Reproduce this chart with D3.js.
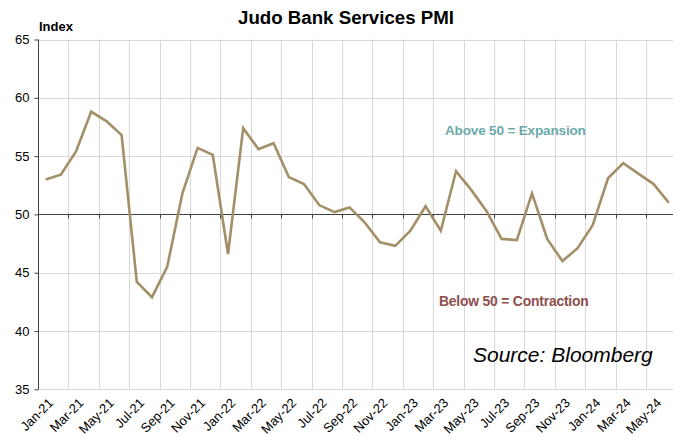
<!DOCTYPE html>
<html><head><meta charset="utf-8">
<script src="https://cdn.jsdelivr.net/npm/d3@7"></script>
<style>body{margin:0;background:#fff;overflow:hidden}svg{display:block;font-family:"Liberation Sans",Arial,sans-serif}</style>
</head><body><svg id="c" width="673" height="437"></svg>
<script>
const months = ["Jan-21","Feb-21","Mar-21","Apr-21","May-21","Jun-21","Jul-21","Aug-21","Sep-21","Oct-21","Nov-21","Dec-21",
"Jan-22","Feb-22","Mar-22","Apr-22","May-22","Jun-22","Jul-22","Aug-22","Sep-22","Oct-22","Nov-22","Dec-22",
"Jan-23","Feb-23","Mar-23","Apr-23","May-23","Jun-23","Jul-23","Aug-23","Sep-23","Oct-23","Nov-23","Dec-23",
"Jan-24","Feb-24","Mar-24","Apr-24","May-24","Jun-24"];
const pmi = [53.0,53.4,55.4,58.8,58.0,56.8,44.2,42.9,45.5,51.8,55.7,55.1,
46.6,57.4,55.6,56.1,53.2,52.6,50.8,50.2,50.6,49.3,47.6,47.3,
48.6,50.7,48.6,53.7,52.1,50.3,47.9,47.8,51.8,47.9,46.0,47.1,
49.1,53.1,54.4,53.5,52.6,51.0];
const yTicks = [35,40,45,50,55,60,65];
const title = "Judo Bank Services PMI";
const yLabel = "Index";
const noteAbove = "Above 50 = Expansion";
const noteBelow = "Below 50 = Contraction";
const source = "Source: Bloomberg";

const svg = d3.select("#c");
const L = 38, T = 39.5, B = 389.3;
const step = 15.2;
const R = L + step * months.length;
const x = d3.scaleBand().domain(months).range([L, R]);
const y = d3.scaleLinear().domain([35, 65]).range([B, T]);

// horizontal gridlines
svg.append("g").selectAll("line").data(yTicks).join("line")
  .attr("x1", L).attr("x2", 673).attr("y1", d => Math.round(y(d)) + 0.5).attr("y2", d => Math.round(y(d)) + 0.5)
  .attr("stroke", "#d9d9d9").attr("stroke-width", 1);
// vertical gridlines at every 2nd category boundary
const bounds = months.filter((d, i) => i % 2 === 0 && i > 0);
svg.append("g").selectAll("line").data(bounds).join("line")
  .attr("x1", d => Math.round(x(d)) + 0.5).attr("x2", d => Math.round(x(d)) + 0.5)
  .attr("y1", T).attr("y2", B)
  .attr("stroke", "#d9d9d9").attr("stroke-width", 1);

// y axis
const yAxis = svg.append("g").attr("transform", `translate(${L + 0.5},0)`)
  .call(d3.axisLeft(y).tickValues(yTicks).tickSize(4).tickPadding(5).tickFormat(d3.format("d")));
yAxis.select(".domain").attr("stroke", "#404040").attr("d", `M-0,${T}V${B}`);
yAxis.selectAll(".tick line").attr("stroke", "#404040");
yAxis.selectAll(".tick text").attr("font-size", "13px").attr("fill", "#000").attr("font-family", "Liberation Sans, Arial, sans-serif");

// x axis line at 50 with ticks
const y50 = Math.round(y(50)) + 0.5;
svg.append("line").attr("x1", L).attr("x2", 673).attr("y1", y50).attr("y2", y50).attr("stroke", "#404040").attr("stroke-width", 1.2);
svg.append("g").selectAll("line").data(bounds).join("line")
  .attr("x1", d => Math.round(x(d)) + 0.5).attr("x2", d => Math.round(x(d)) + 0.5)
  .attr("y1", y50).attr("y2", y50 + 4).attr("stroke", "#404040");

// x labels
const labs = months.filter((d, i) => i % 2 === 0);
svg.append("g").selectAll("text").data(labs).join("text")
  .attr("transform", d => `translate(${x(d) + x.bandwidth() / 2 + 2},${B + 8}) rotate(-45)`)
  .attr("text-anchor", "end").attr("dy", "0.7em")
  .attr("font-size", "13px").attr("fill", "#000").text(d => d);

// line
const line = d3.line().x((d, i) => x(months[i]) + x.bandwidth() / 2).y(d => y(d));
svg.append("path").datum(pmi).attr("d", line)
  .attr("fill", "none").attr("stroke", "#a38f68").attr("stroke-width", 2.6).attr("stroke-linejoin", "miter");

// texts
svg.append("text").attr("x", 346).attr("y", 24).attr("text-anchor", "middle")
  .attr("font-size", "18.7px").attr("font-weight", "bold").attr("fill", "#000").text(title);
svg.append("text").attr("x", 39).attr("y", 31).attr("font-size", "13px").attr("font-weight", "bold").attr("fill", "#000").text(yLabel);
svg.append("text").attr("x", 445).attr("y", 135).attr("font-size", "13.6px").attr("font-weight", "bold").attr("fill", "#6aaaa9").attr("letter-spacing", "-0.2px").text(noteAbove);
svg.append("text").attr("x", 439).attr("y", 306).attr("font-size", "13.9px").attr("font-weight", "bold").attr("fill", "#8e4f4d").attr("letter-spacing", "-0.2px").text(noteBelow);
svg.append("text").attr("x", 473).attr("y", 362).attr("font-size", "21px").attr("font-style", "italic").attr("fill", "#000").text(source);
</script></body></html>
